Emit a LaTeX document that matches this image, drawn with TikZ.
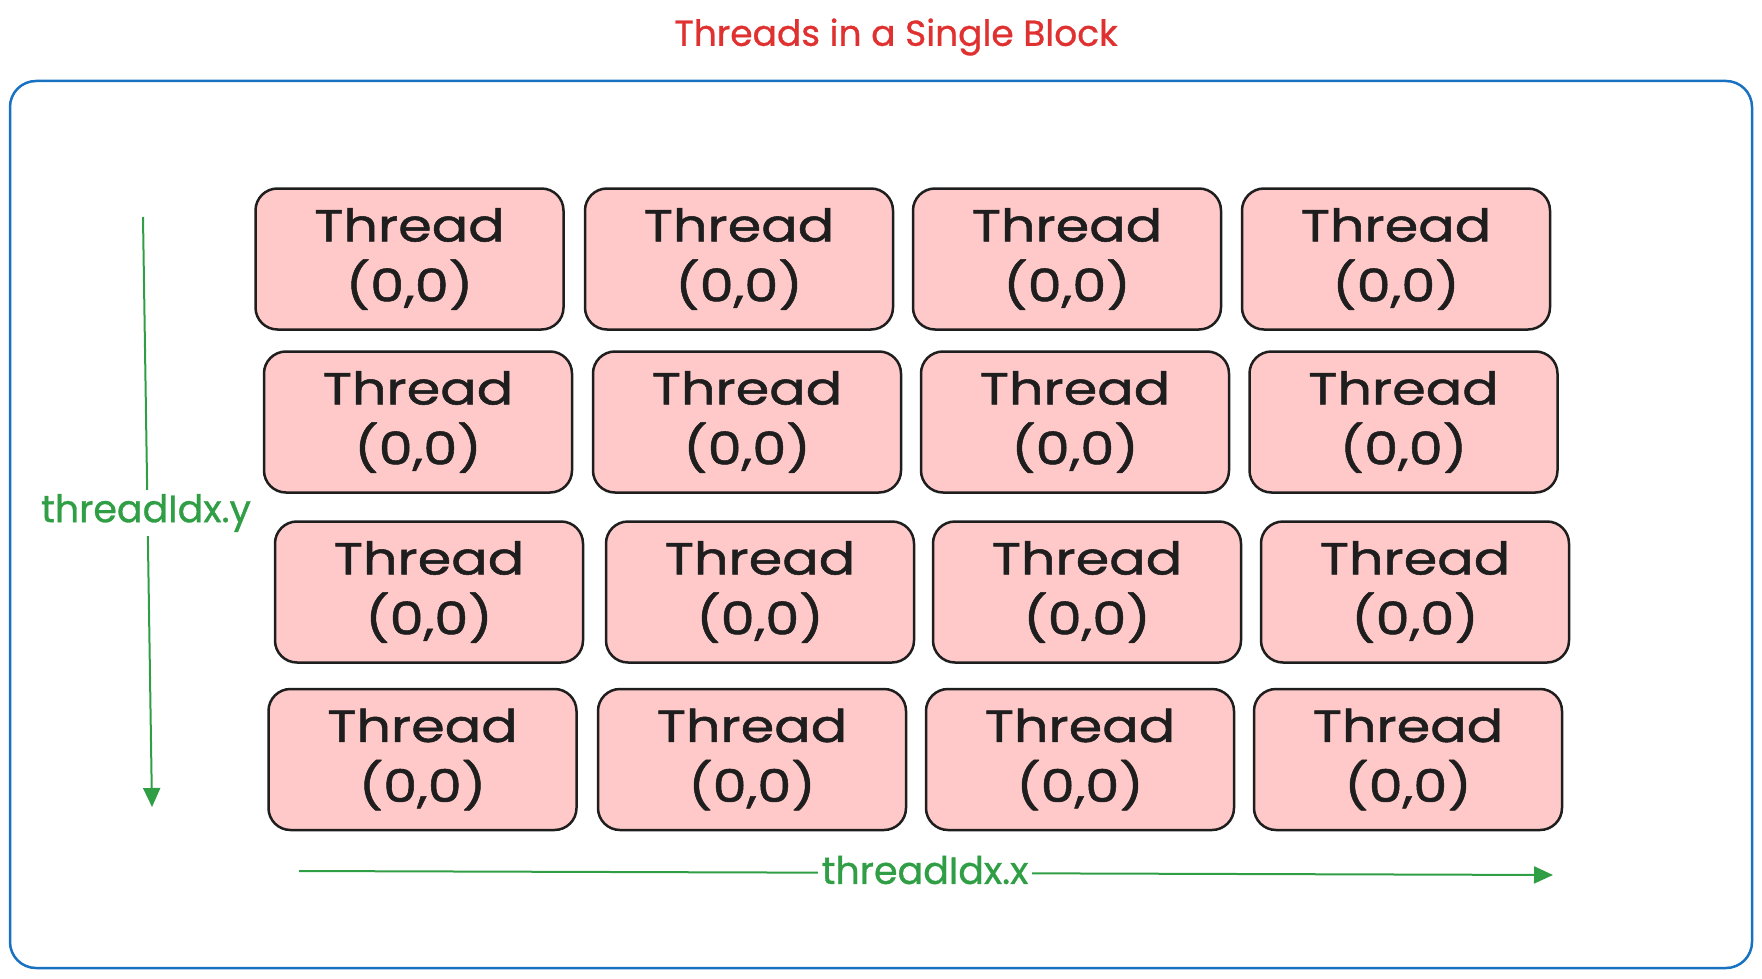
\documentclass[tikz,border=0pt]{standalone}
\usepackage{fontspec}
\setmainfont{Poppins}
\newfontfamily\boxfont{Poppins}[FakeStretch=1.2,FakeBold=1.2]
\newfontfamily\labfont{Poppins}[FakeBold=0.8]
\usetikzlibrary{arrows.meta}
\definecolor{exred}{HTML}{E03131}
\definecolor{exgreen}{HTML}{2F9E44}
\definecolor{exblue}{HTML}{1971C2}
\definecolor{expink}{HTML}{FFC9C9}
\definecolor{exink}{HTML}{1E1E1E}
\tikzset{
  threadbox/.style={draw=exink, fill=expink, line width=2.5pt, rounded corners=22pt,
    minimum width=308pt, minimum height=141pt, inner sep=0pt, align=center,
    font=\boxfont\fontsize{45}{60}\selectfont, text=exink},
  idxlabel/.style={fill=white, inner sep=4pt, text=exgreen, font=\labfont\fontsize{38}{40}\selectfont},
  idxarrow/.style={draw=exgreen, line width=2pt, -{Triangle[length=19pt,width=17pt]}},
}
\begin{document}
\begin{tikzpicture}[x=1pt,y=-1pt]
\useasboundingbox (0,0) rectangle (1762,979);
\node[text=exred, font=\labfont\fontsize{36}{40}\selectfont] (title) at (896,37) {Threads in a Single Block};
\draw[exblue, line width=2.5pt, rounded corners=26pt] (10,81) rectangle (1752,968);
\node (frame) at (881,525) {};
% row 1
\node[threadbox] (t11) at (409.5,259) {Thread\\(0,0)};
\node[threadbox] (t12) at (739,259) {Thread\\(0,0)};
\node[threadbox] (t13) at (1067,259) {Thread\\(0,0)};
\node[threadbox] (t14) at (1396,259) {Thread\\(0,0)};
% row 2
\node[threadbox] (t21) at (418,422) {Thread\\(0,0)};
\node[threadbox] (t22) at (747,422) {Thread\\(0,0)};
\node[threadbox] (t23) at (1075,422) {Thread\\(0,0)};
\node[threadbox] (t24) at (1403.5,422) {Thread\\(0,0)};
% row 3
\node[threadbox] (t31) at (429,592) {Thread\\(0,0)};
\node[threadbox] (t32) at (760,592) {Thread\\(0,0)};
\node[threadbox] (t33) at (1087,592) {Thread\\(0,0)};
\node[threadbox] (t34) at (1415,592) {Thread\\(0,0)};
% row 4
\node[threadbox] (t41) at (422.5,759.5) {Thread\\(0,0)};
\node[threadbox] (t42) at (752,759.5) {Thread\\(0,0)};
\node[threadbox] (t43) at (1080,759.5) {Thread\\(0,0)};
\node[threadbox] (t44) at (1408,759.5) {Thread\\(0,0)};
% axes
\coordinate (ystart) at (143,217);
\coordinate (yend) at (152,807);
\coordinate (xstart) at (299,871);
\coordinate (xend) at (1553,875);
\draw[idxarrow] (ystart) -- (yend);
\draw[idxarrow] (xstart) -- (xend);
\node[idxlabel] (ylab) at (146,513) {threadIdx.y};
\node[idxlabel] (xlab) at (925,870) {threadIdx.x};
\end{tikzpicture}
\end{document}
